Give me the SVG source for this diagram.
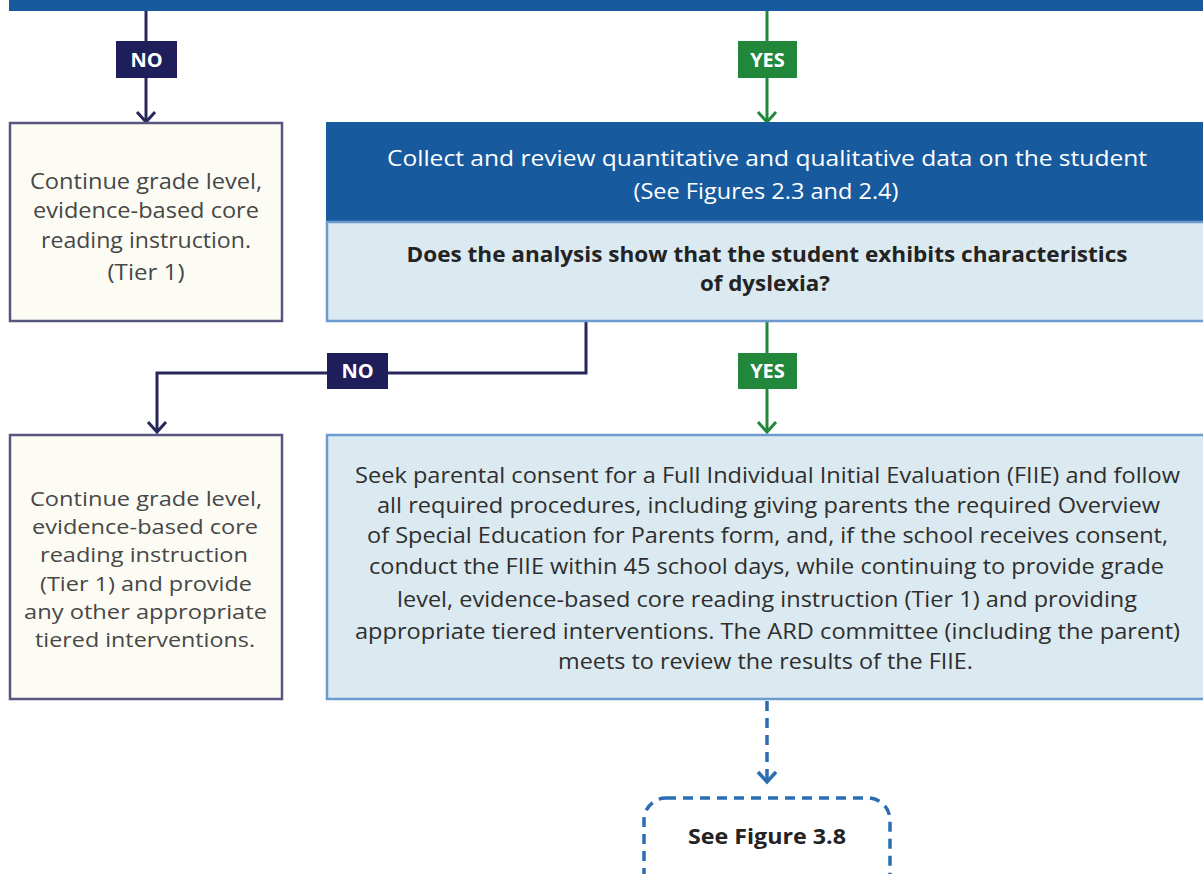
<svg xmlns="http://www.w3.org/2000/svg" width="1203" height="874" viewBox="0 0 1203 874">
  <style>
    .txt { font-family: "Open Sans", "Liberation Sans", sans-serif; text-anchor: middle; }
    .grey { fill: #474747; font-size: 22px; }
    .grey2 { fill: #474747; font-size: 20.5px; }
    .body { fill: #2e2e2e; font-size: 22px; }
    .head { fill: #ffffff; font-size: 22px; }
    .q { fill: #232323; font-size: 21px; font-weight: bold; }
    .tag { fill: #ffffff; font-size: 20px; font-weight: bold; }
    .plain { fill: #fcfcf5; stroke: #56567f; stroke-width: 2.5; }
    .light { fill: #dbe9f0; stroke: #6b9bcf; stroke-width: 2.5; }
    .no { stroke: #27275c; stroke-width: 3; fill: none; }
    .yes { stroke: #21883b; stroke-width: 3; fill: none; }
    .dash { stroke: #2a6db3; stroke-width: 3.5; fill: none; stroke-dasharray: 10 7; }
  </style>
  <defs>
    <!-- open chevron heads, drawn pointing along +x -->
    <marker id="headNo" markerUnits="userSpaceOnUse" markerWidth="16" markerHeight="24" refX="13" refY="12" orient="auto" viewBox="0 0 16 24">
      <path d="M3,3 L13,12 L3,21" fill="none" stroke="#27275c" stroke-width="3"/>
    </marker>
    <marker id="headYes" markerUnits="userSpaceOnUse" markerWidth="16" markerHeight="24" refX="13" refY="12" orient="auto" viewBox="0 0 16 24">
      <path d="M3,3 L13,12 L3,21" fill="none" stroke="#21883b" stroke-width="3"/>
    </marker>
    <marker id="headBlue" markerUnits="userSpaceOnUse" markerWidth="16" markerHeight="24" refX="13" refY="12" orient="auto" viewBox="0 0 16 24">
      <path d="M3,3 L13,12 L3,21" fill="none" stroke="#2a6db3" stroke-width="3.5"/>
    </marker>
  </defs>
  <rect width="1203" height="874" fill="#ffffff"/>

  <!-- top step (bottom edge only is in view) -->
  <g id="top-step">
    <rect x="9" y="-20" width="1210" height="31" fill="#175a9e"/>
  </g>

  <!-- connectors -->
  <g id="connectors">
    <path class="no" d="M146,11 V122" marker-end="url(#headNo)"/>
    <path class="yes" d="M767,11 V122" marker-end="url(#headYes)"/>
    <path class="no" d="M586,321 V373 H157 V432" marker-end="url(#headNo)"/>
    <path class="yes" d="M767,321 V432" marker-end="url(#headYes)"/>
    <path class="dash" d="M767,701 V782" marker-end="url(#headBlue)"/>
    <g id="tag-no-1">
      <rect x="116" y="41" width="61" height="37" fill="#1e1e5a"/>
      <text class="txt tag" x="146.5" y="67">NO</text>
    </g>
    <g id="tag-yes-1">
      <rect x="738" y="41" width="59" height="37" fill="#21883b"/>
      <text class="txt tag" x="767.5" y="67">YES</text>
    </g>
    <g id="tag-no-2">
      <rect x="327" y="353" width="61" height="36" fill="#1e1e5a"/>
      <text class="txt tag" x="357.5" y="378">NO</text>
    </g>
    <g id="tag-yes-2">
      <rect x="738" y="353" width="59" height="36" fill="#21883b"/>
      <text class="txt tag" x="767.5" y="378">YES</text>
    </g>
  </g>

  <!-- left: no data review -->
  <g id="continue-tier1">
    <rect class="plain" x="10" y="123" width="272" height="198"/>
    <text class="txt grey" x="146" y="189" textLength="232" lengthAdjust="spacingAndGlyphs">Continue grade level,</text>
    <text class="txt grey" x="146" y="218" textLength="226" lengthAdjust="spacingAndGlyphs">evidence-based core</text>
    <text class="txt grey" x="146" y="248" textLength="210" lengthAdjust="spacingAndGlyphs">reading instruction.</text>
    <text class="txt grey" x="146" y="280" textLength="77" lengthAdjust="spacingAndGlyphs">(Tier 1)</text>
  </g>

  <!-- data review and dyslexia question -->
  <g id="collect-data">
    <rect x="327" y="123" width="890" height="99" fill="#175a9e" stroke="#175a9e" stroke-width="2"/>
    <rect class="light" x="327" y="222" width="890" height="99"/>
    <text class="txt head" x="767" y="166" textLength="760" lengthAdjust="spacingAndGlyphs">Collect and review quantitative and qualitative data on the student</text>
    <text class="txt head" x="766" y="199" textLength="265" lengthAdjust="spacingAndGlyphs">(See Figures 2.3 and 2.4)</text>
    <text class="txt q" x="767" y="262" textLength="721" lengthAdjust="spacingAndGlyphs">Does the analysis show that the student exhibits characteristics</text>
    <text class="txt q" x="765" y="291" textLength="130" lengthAdjust="spacingAndGlyphs">of dyslexia?</text>
  </g>

  <!-- left: no dyslexia characteristics -->
  <g id="continue-tiered">
    <rect class="plain" x="10" y="435" width="272" height="264"/>
    <text class="txt grey2" x="146" y="506" textLength="232" lengthAdjust="spacingAndGlyphs">Continue grade level,</text>
    <text class="txt grey2" x="145" y="534" textLength="226" lengthAdjust="spacingAndGlyphs">evidence-based core</text>
    <text class="txt grey2" x="144" y="562" textLength="208" lengthAdjust="spacingAndGlyphs">reading instruction</text>
    <text class="txt grey2" x="146" y="591" textLength="212" lengthAdjust="spacingAndGlyphs">(Tier 1) and provide</text>
    <text class="txt grey2" x="145.5" y="619" textLength="243" lengthAdjust="spacingAndGlyphs">any other appropriate</text>
    <text class="txt grey2" x="145" y="647" textLength="220" lengthAdjust="spacingAndGlyphs">tiered interventions.</text>
  </g>

  <!-- FIIE consent and evaluation -->
  <g id="fiie">
    <rect class="light" x="327" y="435" width="890" height="264"/>
    <text class="txt body" x="767.5" y="483" textLength="825" lengthAdjust="spacingAndGlyphs">Seek parental consent for a Full Individual Initial Evaluation (FIIE) and follow</text>
    <text class="txt body" x="768.5" y="513" textLength="783" lengthAdjust="spacingAndGlyphs">all required procedures, including giving parents the required Overview</text>
    <text class="txt body" x="767.5" y="543" textLength="801" lengthAdjust="spacingAndGlyphs">of Special Education for Parents form, and, if the school receives consent,</text>
    <text class="txt body" x="766.5" y="574" textLength="795" lengthAdjust="spacingAndGlyphs">conduct the FIIE within 45 school days, while continuing to provide grade</text>
    <text class="txt body" x="767" y="607" textLength="740" lengthAdjust="spacingAndGlyphs">level, evidence-based core reading instruction (Tier 1) and providing</text>
    <text class="txt body" x="767.5" y="639" textLength="825" lengthAdjust="spacingAndGlyphs">appropriate tiered interventions. The ARD committee (including the parent)</text>
    <text class="txt body" x="765.5" y="669" textLength="415" lengthAdjust="spacingAndGlyphs">meets to review the results of the FIIE.</text>
  </g>

  <!-- off-page reference -->
  <g id="see-figure-3-8">
    <rect class="dash" x="644" y="798" width="246" height="100" rx="22" fill="#dbe9f0"/>
    <text class="txt q" x="767" y="844" textLength="158" lengthAdjust="spacingAndGlyphs">See Figure 3.8</text>
  </g>
</svg>
